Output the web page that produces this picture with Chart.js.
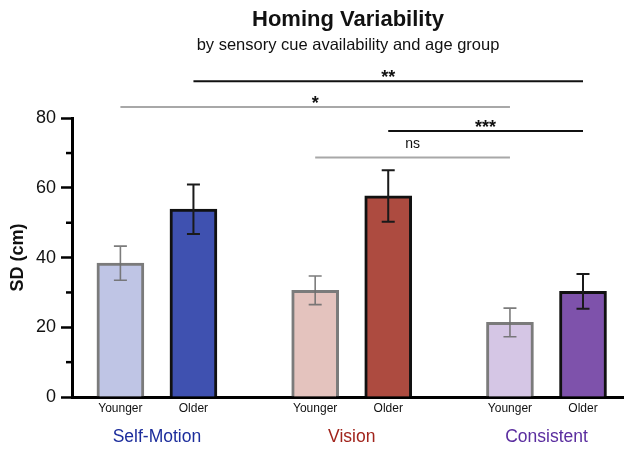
<!DOCTYPE html>
<html>
<head>
<meta charset="utf-8">
<script src="https://cdn.jsdelivr.net/npm/chart.js@4/dist/chart.umd.min.js"></script>
<style>
  html, body { margin: 0; padding: 0; background: #fff; }
  canvas { display: block; }
</style>
</head>
<body>
<canvas id="diagram" width="624" height="449"></canvas>
<script>
const groups = ["Self-Motion", "Vision", "Consistent"];
const ages = ["Younger", "Older"];
const younger = [38.4, 30.6, 21.4];
const older = [53.9, 57.7, 30.3];
const youngerErr = [4.9, 4.1, 4.1];
const olderErr = [7.1, 7.4, 5.0];
const yTicks = [0, 20, 40, 60, 80];
const minorTicks = [10, 30, 50, 70];
// significance brackets: bar index from / to (0..5 = group*2 + age), height in cm
const sigFrom = [1, 0, 3, 2];
const sigTo = [5, 4, 5, 4];
const sigLevel = [90.6, 83.2, 76.3, 68.7];
const sigLabel = ["**", "*", "***", "ns"];

const fills = [["#bfc5e5", "#3f51b0"], ["#e4c3be", "#ad4b40"], ["#d5c6e5", "#7e52ab"]];
const groupColors = ["#1c2d9c", "#a1241c", "#5a2d9f"];
const pairOffset = 0.1875;

// flatten into bar order: group0 younger, group0 older, ...
const barX = [], barY = [], barErr = [], barFill = [], barBorder = [];
groups.forEach((g, i) => {
  barX.push(i - pairOffset, i + pairOffset);
  barY.push(younger[i], older[i]);
  barErr.push(youngerErr[i], olderErr[i]);
  barFill.push(fills[i][0], fills[i][1]);
  barBorder.push("rgba(100,100,100,0.85)", "#111");
});

Chart.defaults.font.family = "'Liberation Sans', Arial, sans-serif";
Chart.defaults.color = "#111";

const extras = {
  id: "extras",
  afterDatasetsDraw(chart) {
    const { ctx, scales: { x, y } } = chart;
    ctx.save();
    barY.forEach((m, i) => {
      const px = x.getPixelForValue(barX[i]);
      const top = y.getPixelForValue(m + barErr[i]);
      const bot = y.getPixelForValue(m - barErr[i]);
      ctx.strokeStyle = i % 2 ? "#1a1a1a" : "rgba(110,110,110,0.9)";
      ctx.lineWidth = i % 2 ? 2 : 1.6;
      ctx.beginPath();
      ctx.moveTo(px, top); ctx.lineTo(px, bot);
      ctx.moveTo(px - 6.5, top); ctx.lineTo(px + 6.5, top);
      ctx.moveTo(px - 6.5, bot); ctx.lineTo(px + 6.5, bot);
      ctx.stroke();
    });
    ctx.restore();
  },
  afterDraw(chart) {
    const { ctx, scales: { x, y } } = chart;
    ctx.save();
    // minor ticks
    ctx.strokeStyle = "#000";
    ctx.lineWidth = 2.5;
    minorTicks.forEach(v => {
      const py = y.getPixelForValue(v);
      ctx.beginPath();
      ctx.moveTo(chart.chartArea.left - 6, py);
      ctx.lineTo(chart.chartArea.left, py);
      ctx.stroke();
    });
    // significance brackets
    ctx.textAlign = "center";
    ctx.textBaseline = "alphabetic";
    sigLabel.forEach((lab, i) => {
      const x1 = x.getPixelForValue(barX[sigFrom[i]]);
      const x2 = x.getPixelForValue(barX[sigTo[i]]);
      const py = y.getPixelForValue(sigLevel[i]);
      const dark = sigFrom[i] % 2 === 1;
      ctx.strokeStyle = dark ? "#111" : "#a8a8a8";
      ctx.lineWidth = 2;
      ctx.beginPath();
      ctx.moveTo(x1, py); ctx.lineTo(x2, py);
      ctx.stroke();
      ctx.fillStyle = "#111";
      if (lab === "ns") {
        ctx.font = "14px 'Liberation Sans', Arial, sans-serif";
        ctx.fillText(lab, (x1 + x2) / 2, py - 10);
      } else {
        ctx.font = "bold 18px 'Liberation Sans', Arial, sans-serif";
        ctx.fillText(lab, (x1 + x2) / 2, py + 2);
      }
    });
    ctx.restore();
  }
};

new Chart(document.getElementById("diagram"), {
  type: "bar",
  data: {
    datasets: [{
      data: barX.map((v, i) => ({ x: v, y: barY[i] })),
      backgroundColor: barFill,
      borderColor: barBorder,
      borderWidth: 3,
      barThickness: 47,
      xAxisID: "x",
      yAxisID: "y"
    }]
  },
  options: {
    responsive: false,
    animation: false,
    devicePixelRatio: 1,
    layout: { padding: 0 },
    plugins: {
      legend: { display: false },
      tooltip: { enabled: false },
      title: {
        display: true,
        text: "Homing Variability",
        fullSize: false,
        font: { size: 22, weight: "bold" },
        color: "#111",
        padding: { top: 7, bottom: 1 }
      },
      subtitle: {
        display: true,
        text: "by sensory cue availability and age group",
        fullSize: false,
        font: { size: 16.5 },
        color: "#111",
        padding: { top: 1, bottom: 63 }
      }
    },
    scales: {
      x: {
        type: "linear",
        position: "bottom",
        weight: 0,
        offset: false,
        min: -0.436,
        max: 2.398,
        grid: { display: false, drawTicks: false, offset: false },
        border: { display: true, color: "#000", width: 3 },
        afterBuildTicks: axis => { axis.ticks = barX.map(v => ({ value: v })); },
        afterFit: axis => { axis.height = 22; },
        ticks: {
          autoSkip: false,
          maxRotation: 0,
          padding: 4,
          font: { size: 12 },
          color: "#111",
          callback: (v, i) => ages[i % 2]
        }
      },
      x2: {
        type: "linear",
        position: "bottom",
        weight: 1,
        offset: false,
        min: -0.436,
        max: 2.398,
        grid: { display: false, drawTicks: false, offset: false },
        border: { display: false },
        afterBuildTicks: axis => { axis.ticks = groups.map((g, i) => ({ value: i })); },
        afterFit: axis => { axis.height = 30; },
        ticks: {
          autoSkip: false,
          maxRotation: 0,
          padding: 8,
          font: { size: 17.5 },
          color: c => groupColors[c.index],
          callback: (v, i) => groups[i]
        }
      },
      y: {
        min: 0,
        max: 80,
        afterBuildTicks: axis => { axis.ticks = yTicks.map(v => ({ value: v })); },
        afterFit: axis => { axis.width = 72; },
        grid: { drawOnChartArea: false, drawTicks: true, tickLength: 11, tickWidth: 2.5, tickColor: "#000" },
        border: { display: true, color: "#000", width: 3 },
        ticks: { padding: 5, font: { size: 18 }, color: "#111" },
        title: {
          display: true,
          text: "SD (cm)",
          font: { size: 18, weight: "bold" },
          color: "#111",
          padding: { top: 7, bottom: 0 }
        }
      }
    }
  },
  plugins: [extras]
});
</script>
</body>
</html>
